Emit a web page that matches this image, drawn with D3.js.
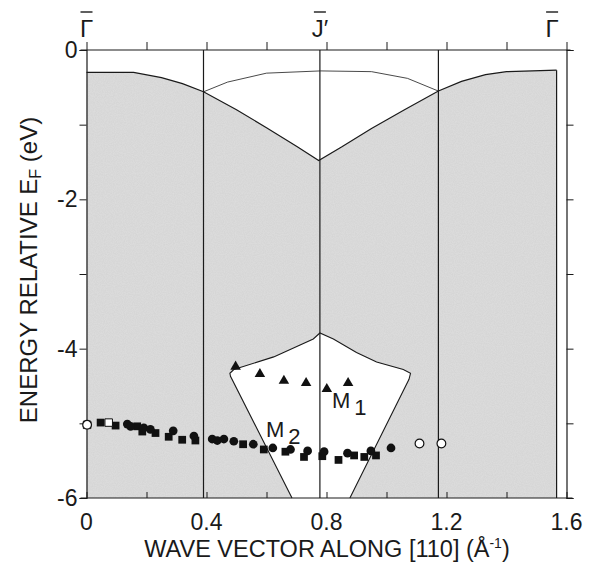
<!DOCTYPE html>
<html><head><meta charset="utf-8">
<script src="https://cdn.jsdelivr.net/npm/d3@7"></script>
<style>body{margin:0;background:#fff;}svg{display:block;font-family:"Liberation Sans",Arial,sans-serif;}</style>
</head><body>
<svg id="c" width="589" height="565"></svg>
<script>
// ---- data ----
const xTicks = [0, 0.4, 0.8, 1.2, 1.6];
const xTickLabels = ["0", "0.4", "0.8", "1.2", "1.6"];
const yTicks = [0, -2, -4, -6];
const yTickLabels = ["0", "-2", "-4", "-6"];
const zoneLines = [0.39, 0.778, 1.173, 1.567];
const symmetryPoints = [["Γ", 0], ["J′", 0.778], ["Γ", 1.552]];
// upper edge of the projected bulk band (shaded)
const bandTop = [[0,-0.30],[0.157,-0.30],[0.25,-0.37],[0.32,-0.45],[0.39,-0.56],[0.5,-0.80],[0.6,-1.04],[0.7,-1.29],[0.774,-1.48],[0.85,-1.30],[0.95,-1.05],[1.06,-0.80],[1.173,-0.55],[1.25,-0.42],[1.33,-0.33],[1.4,-0.29],[1.567,-0.27]];
// thin curve bounding the upper gap
const gapTop = [[0.39,-0.56],[0.47,-0.43],[0.6,-0.31],[0.78,-0.28],[0.95,-0.29],[1.07,-0.38],[1.173,-0.55]];
// lower gap (pocket)
const pocket = [[0.685,-6],[0.48,-4.37],[0.478,-4.33],[0.491,-4.28],[0.624,-4.11],[0.712,-3.95],[0.756,-3.87],[0.778,-3.79],[0.823,-3.87],[0.90,-4.05],[0.967,-4.18],[1.056,-4.28],[1.08,-4.33],[1.075,-4.41],[0.878,-6]];
// measured states
const m1Triangles = [[0.497,-4.24],[0.578,-4.34],[0.658,-4.43],[0.732,-4.46],[0.801,-4.54],[0.872,-4.46]];
const m2Squares = [[0.047,-4.99],[0.097,-5.03],[0.169,-5.04],[0.186,-5.11],[0.230,-5.13],[0.274,-5.18],[0.319,-5.22],[0.363,-5.23],[0.522,-5.28],[0.591,-5.35],[0.663,-5.38],[0.725,-5.45],[0.786,-5.44],[0.840,-5.49],[0.892,-5.43],[0.926,-5.45],[0.965,-5.43]];
const m2OpenSquares = [[0.002,-5.02],[0.074,-4.99]];
const m2Circles = [[0.136,-5.01],[0.147,-5.04],[0.191,-5.06],[0.213,-5.08],[0.289,-5.10],[0.358,-5.17],[0.419,-5.21],[0.436,-5.23],[0.458,-5.21],[0.491,-5.24],[0.556,-5.28],[0.621,-5.33],[0.680,-5.35],[0.737,-5.37],[0.792,-5.38],[0.870,-5.40],[0.948,-5.37],[1.015,-5.33]];
const m2OpenCircles = [[0.002,-5.02],[1.110,-5.27],[1.183,-5.27]];

// ---- chart ----
const svg = d3.select("#c");
const x = d3.scaleLinear().domain([0,1.6]).range([86.5,566.5]);
const y = d3.scaleLinear().domain([-6,0]).range([498,50]);
const ink = "#1a1a1a";
const shade = "#dedede";

// grainy shading like the printed original
const defs = svg.append("defs");
const flt = defs.append("filter").attr("id","grain").attr("x",0).attr("y",0).attr("width","100%").attr("height","100%");
flt.append("feTurbulence").attr("type","fractalNoise").attr("baseFrequency",0.9).attr("numOctaves",2).attr("seed",3).attr("result","n");
flt.append("feColorMatrix").attr("in","n").attr("type","matrix")
  .attr("values","0 0 0 0 0  0 0 0 0 0  0 0 0 0 0  0 0 0 0.1 0").attr("result","a");
flt.append("feComposite").attr("in","a").attr("in2","SourceGraphic").attr("operator","in").attr("result","b");
flt.append("feMerge").call(m=>{m.append("feMergeNode").attr("in","SourceGraphic");m.append("feMergeNode").attr("in","b");});

const line = d3.line().x(d=>x(d[0])).y(d=>y(d[1]));
const area = d3.area().x(d=>x(d[0])).y0(y(-6)).y1(d=>y(d[1]));

// shaded band
svg.append("path").attr("d", area(bandTop)).attr("fill", shade).attr("filter","url(#grain)");
// pocket (white)
svg.append("path").attr("d", line(pocket)+"Z").attr("fill","#fff");
svg.append("path").attr("d", line(pocket)).attr("fill","none").attr("stroke",ink).attr("stroke-width",1.1);
// band top and gap curve
svg.append("path").attr("d", line(bandTop)).attr("fill","none").attr("stroke",ink).attr("stroke-width",1.2);
svg.append("path").attr("d", line(gapTop)).attr("fill","none").attr("stroke",ink).attr("stroke-width",0.8);

// zone lines
zoneLines.forEach((v,i)=>{
  const top = i===3 ? y(-0.27) : y(0);
  svg.append("line").attr("x1",x(v)).attr("x2",x(v)).attr("y1",top).attr("y2",y(-6))
    .attr("stroke",ink).attr("stroke-width",1.2);
});

// axes
const gB = svg.append("g").attr("transform",`translate(0,${y(-6)})`)
  .call(d3.axisBottom(x).tickValues(d3.range(0,1.61,0.2)).tickSize(-6).tickFormat(""));
const gT = svg.append("g").attr("transform",`translate(0,${y(0)})`)
  .call(d3.axisTop(x).tickValues(d3.range(0,1.61,0.2)).tickSize(8).tickFormat(""));
const gL = svg.append("g").attr("transform",`translate(${x(0)},0)`)
  .call(d3.axisLeft(y).tickValues(d3.range(-6,0.1,1)).tickSize(7).tickFormat(""));
const gR = svg.append("g").attr("transform",`translate(${x(1.6)},0)`)
  .call(d3.axisRight(y).tickValues(d3.range(-6,0.1,1)).tickSize(7).tickFormat(""));
[gB,gT,gL,gR].forEach(g=>{
  g.selectAll("path.domain").attr("stroke",ink).attr("stroke-width",1.2);
  g.selectAll(".tick line").attr("stroke",ink).attr("stroke-width",1);
});
gB.select("path.domain").attr("d",`M${x(0)-6},0H${x(1.6)+6}`);
gT.select("path.domain").attr("d",`M${x(0)-6},0H${x(1.6)+4}`);

// tick labels
svg.append("g").selectAll("text").data(xTicks).join("text")
  .attr("x",d=>x(d)).attr("y",530).attr("text-anchor","middle")
  .attr("font-size",23).attr("fill",ink).text((d,i)=>xTickLabels[i]);
svg.append("g").selectAll("text").data(yTicks).join("text")
  .attr("x",x(0)-9).attr("y",d=>y(d)+8).attr("text-anchor","end")
  .attr("font-size",23).attr("fill",ink).text((d,i)=>yTickLabels[i]);

// axis titles
const xt = svg.append("text").attr("x",327).attr("y",557).attr("text-anchor","middle")
  .attr("font-size",23.5).attr("fill",ink);
xt.append("tspan").text("WAVE VECTOR ALONG [110] (Å");
xt.append("tspan").attr("font-size",14).attr("dy",-9).text("-1");
xt.append("tspan").attr("dy",9).text(")");
const yt = svg.append("text").attr("transform","translate(37,270) rotate(-90)").attr("text-anchor","middle")
  .attr("font-size",24).attr("fill",ink);
yt.append("tspan").text("ENERGY RELATIVE E");
yt.append("tspan").attr("font-size",16).attr("dy",4).text("F");
yt.append("tspan").attr("dy",-4).text(" (eV)");

// symmetry labels
symmetryPoints.forEach(([t,v])=>{
  svg.append("text").attr("x",x(v)).attr("y",37).attr("text-anchor","middle")
    .attr("font-size",24).attr("fill",ink).text(t);
  svg.append("line").attr("x1",x(v)-6).attr("x2",x(v)+6).attr("y1",12).attr("y2",12)
    .attr("stroke",ink).attr("stroke-width",1.4);
});

// markers
const sym = (type,size)=>d3.symbol().type(type).size(size)();
svg.append("g").selectAll("path").data(m1Triangles).join("path")
  .attr("transform",d=>`translate(${x(d[0])},${y(d[1])})`).attr("d",sym(d3.symbolTriangle,48)).attr("fill","#111");
svg.append("g").selectAll("path").data(m2Squares).join("path")
  .attr("transform",d=>`translate(${x(d[0])},${y(d[1])})`).attr("d",sym(d3.symbolSquare,60)).attr("fill","#111");
svg.append("g").selectAll("path").data(m2Circles).join("path")
  .attr("transform",d=>`translate(${x(d[0])},${y(d[1])})`).attr("d",sym(d3.symbolCircle,60)).attr("fill","#111");
svg.append("g").selectAll("path").data(m2OpenSquares).join("path")
  .attr("transform",d=>`translate(${x(d[0])},${y(d[1])})`).attr("d",sym(d3.symbolSquare,56)).attr("fill","#fff").attr("stroke","#111").attr("stroke-width",1);
svg.append("g").selectAll("path").data(m2OpenCircles).join("path")
  .attr("transform",d=>`translate(${x(d[0])},${y(d[1])})`).attr("d",sym(d3.symbolCircle,60)).attr("fill","#fff").attr("stroke","#111").attr("stroke-width",1.2);

// state labels
const lab = (txt,sub,xx,yy)=>{
  const t = svg.append("text").attr("x",xx).attr("y",yy).attr("font-size",22).attr("fill",ink);
  t.append("tspan").text(txt);
  t.append("tspan").attr("dx",4).attr("dy",7).text(sub);
};
lab("M","1",332,408);
lab("M","2",266,437);
</script>
</body></html>
